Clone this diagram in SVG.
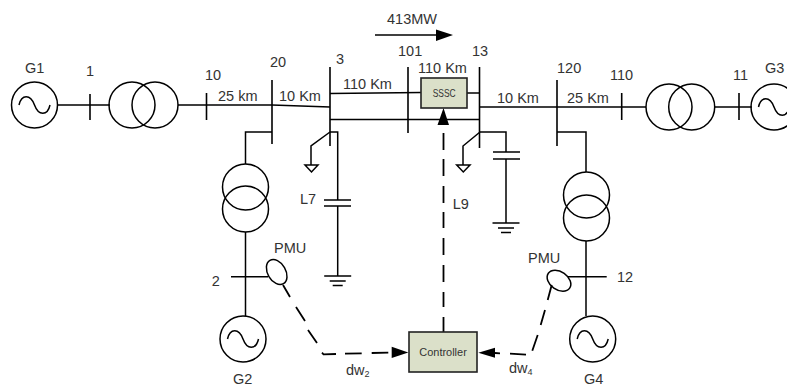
<svg xmlns="http://www.w3.org/2000/svg" width="787" height="387" viewBox="0 0 787 387">
<style>
text{font-family:"Liberation Sans",Arial,sans-serif;font-size:14.500px;fill:#333}
.l{fill:none;stroke:#000;stroke-width:1.5}
.b{fill:none;stroke:#000;stroke-width:1.6}
.c{fill:#fff;fill-opacity:0;stroke:#000;stroke-width:1.5}
.d{fill:none;stroke:#000;stroke-width:1.8}
.box{fill:#dbe0c9;stroke:#222;stroke-width:1.6}
.a{fill:#000}
.s{font-size:10.500px}
.sub{font-size:9px}
</style>
<defs>
<g id="gen"><circle class="c" r="23"/><path class="l" d="M-15.500 0C-13 -11 -4 -11 0 0C4 11 13 11 15.500 0"/></g>
<g id="gnd"><path class="l" d="M-13.500 0H13.500M-8 5H8M-5 9.500H5"/></g>
</defs>
<rect width="787" height="387" fill="#fff"/>
<g id="connectors">
<path class="l" d="M58 105H110M178 105H272L330 107M330 93.500L421 92.500M467 93H480M330 119.500H480M480 107H646M715 107H752"/>
<path class="l" d="M272 132H245.500V164M245.500 232V316M231 276.700H268"/>
<path class="l" d="M557 132H586V172M586 241V316M568 276.700H606.700"/>
<path class="l" d="M330 132L311 146V165M330 132H337.700V200M337.700 206V276M480 132L463 146V165M480 132H506V152M506 159V223"/>
<path class="d" d="M283 285L290 297M296 307L305 321M308 330L317 343M322 352.700L323.500 354.300L336 354M345 353.700L361.700 353.300M371.700 353L388.300 352.600"/>
<path class="d" d="M551.700 285L547.700 300M545 310L540.700 325M537.700 335L532.300 350.700M526 354.700L510 353.700M500 353.300L495 353"/>
<path class="d" d="M443.500 332V317M443.500 307V292M443.500 282V265M443.500 255V238M443.500 228V212M443.500 203V186M443.500 176V159M443.500 150V133"/>
<path class="a" d="M408.300 352.600L391.700 346.700V358Z"/>
<path class="a" d="M478.300 352.700L495 347.700V357.700Z"/>
<path class="a" d="M443.500 108L449 125H437.500Z"/>
<path class="l" d="M375 35H436"/>
<path class="a" d="M453 35L436 29.500V41Z"/>
</g>
<g id="bus1"><path class="b" d="M90 94V120"/><text x="86" y="76">1</text></g>
<g id="bus10"><path class="b" d="M206.500 93V120"/><text x="205" y="80">10</text></g>
<g id="bus20"><path class="b" d="M272 80V144"/><text x="270" y="67">20</text></g>
<g id="bus3"><path class="b" d="M330 67V146"/><text x="336" y="64">3</text></g>
<g id="bus101"><path class="b" d="M408 67V133"/><text x="398" y="56">101</text></g>
<g id="bus13"><path class="b" d="M479.500 67V148"/><text x="472" y="56">13</text></g>
<g id="bus120"><path class="b" d="M557 80V146"/><text x="557" y="73">120</text></g>
<g id="bus110"><path class="b" d="M621.700 93V120"/><text x="610" y="80">110</text></g>
<g id="bus11"><path class="b" d="M739 93V120"/><text x="733" y="80">11</text></g>
<g id="g1"><use href="#gen" x="34.500" y="105"/><text x="25" y="73">G1</text></g>
<g id="t1"><circle class="c" cx="132" cy="105" r="23"/><circle class="c" cx="155" cy="105" r="23"/></g>
<g id="t3"><circle class="c" cx="669" cy="107" r="23"/><circle class="c" cx="691.700" cy="107" r="23"/></g>
<g id="g3"><use href="#gen" x="774" y="107"/><text x="765" y="73">G3</text></g>
<g id="t2"><circle class="c" cx="245.500" cy="187" r="23"/><circle class="c" cx="245.500" cy="209" r="23"/></g>
<g id="t4"><circle class="c" cx="586.500" cy="195" r="23"/><circle class="c" cx="586.500" cy="218" r="23"/></g>
<g id="g2"><use href="#gen" x="243" y="339"/><text x="233" y="384">G2</text><text x="211.700" y="285.700">2</text></g>
<g id="g4"><use href="#gen" x="592.700" y="339"/><text x="584" y="384">G4</text><text x="617" y="281.700">12</text></g>
<g id="pmu2"><ellipse class="c" cx="276.700" cy="272" rx="13.500" ry="9" transform="rotate(60 276.700 272)"/><text x="274" y="252.700">PMU</text></g>
<g id="pmu4"><ellipse class="c" cx="559" cy="280.700" rx="13" ry="9" transform="rotate(35 559 280.700)"/><text x="528" y="262.700">PMU</text></g>
<g id="cap7"><path class="l" d="M324 200H351M324 206H351"/><use href="#gnd" x="337.700" y="276"/><path class="l" d="M305 165H318L311.500 172Z"/><text x="300" y="204">L7</text></g>
<g id="cap9"><path class="l" d="M493 152H520M493 159H520"/><use href="#gnd" x="506" y="223"/><path class="l" d="M456.700 165H470L463.300 172Z"/><text x="452.700" y="209">L9</text></g>
<g id="sssc"><rect class="box" x="421" y="78" width="46" height="30"/><text class="s" x="432.700" y="97" textLength="23" lengthAdjust="spacingAndGlyphs">SSSC</text></g>
<g id="controller"><rect class="box" x="409" y="332" width="68" height="40"/><text class="s" x="419.300" y="356" textLength="47.500" lengthAdjust="spacingAndGlyphs">Controller</text></g>
<g id="labels">
<text x="343" y="89">110 Km</text>
<text x="218" y="101">25 km</text>
<text x="279" y="101">10 Km</text>
<text x="387" y="24">413MW</text>
<text x="418" y="73">110 Km</text>
<text x="497" y="103">10 Km</text>
<text x="567" y="103">25 Km</text>
<text x="346" y="375">dw<tspan class="sub" dy="2">2</tspan></text>
<text x="509" y="372.700">dw<tspan class="sub" dy="2">4</tspan></text>
</g>
</svg>
